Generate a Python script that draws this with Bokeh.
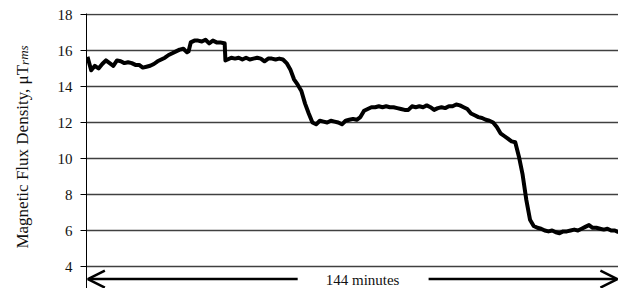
from bokeh.plotting import figure
from bokeh.layouts import row
from bokeh.models import Range1d, Arrow, OpenHead, FixedTicker
from bokeh.embed import file_html
from bokeh.resources import INLINE
from bokeh.core.properties import value

# ---- data ----
minutes = [0, 1, 2, 3, 4, 5, 6, 7, 8, 9, 10, 11, 12, 13, 14, 15, 16, 17, 18, 19,
           20, 21, 22, 23, 24, 25, 26, 27, 27.4, 28, 29, 30, 31, 32, 33, 34, 35, 36, 37,
           37.2, 37.4, 38, 39, 40, 41, 42, 43, 44, 45, 46, 47, 48, 49, 50, 51, 52, 53,
           54, 55, 56, 57, 58, 59, 60, 61, 62, 63, 64, 65, 66, 67, 68, 69, 70, 71, 72,
           73, 74, 75, 76, 77, 78, 79, 80, 81, 82, 83, 84, 85, 86, 87, 88, 89, 90, 91,
           92, 93, 94, 95, 96, 97, 98, 99, 100, 101, 102, 103, 104, 105, 106, 107, 108,
           109, 110, 111, 112, 113, 114, 115, 116, 117, 118, 119, 120, 121, 122, 123,
           124, 125, 126, 127, 128, 129, 130, 131, 132, 133, 134, 135, 136, 137, 138,
           139, 140, 141, 142, 143, 144]
flux = [15.65, 14.9, 15.15, 15.0, 15.25, 15.45, 15.3, 15.15, 15.45, 15.4, 15.3, 15.35,
        15.3, 15.2, 15.2, 15.05, 15.1, 15.15, 15.25, 15.4, 15.5, 15.6, 15.75, 15.85,
        15.95, 16.05, 16.1, 15.9, 15.95, 16.45, 16.55, 16.55, 16.5, 16.6, 16.4, 16.55,
        16.45, 16.45, 16.4, 16.4, 15.45, 15.5, 15.6, 15.55, 15.6, 15.5, 15.6, 15.5,
        15.55, 15.6, 15.55, 15.4, 15.55, 15.55, 15.5, 15.55, 15.5, 15.3, 14.95, 14.4,
        14.1, 13.75, 13.05, 12.5, 12.0, 11.9, 12.1, 12.05, 12.0, 12.1, 12.05, 12.0,
        11.9, 12.1, 12.15, 12.2, 12.15, 12.3, 12.65, 12.75, 12.85, 12.85, 12.9, 12.85,
        12.9, 12.85, 12.85, 12.8, 12.75, 12.7, 12.7, 12.9, 12.85, 12.9, 12.85, 12.95,
        12.85, 12.7, 12.8, 12.85, 12.8, 12.9, 12.9, 13.0, 12.95, 12.85, 12.75, 12.5,
        12.4, 12.3, 12.25, 12.15, 12.1, 12.0, 11.75, 11.4, 11.25, 11.1, 10.95, 10.9,
        10.1, 9.1, 7.7, 6.6, 6.25, 6.15, 6.1, 6.0, 5.95, 6.0, 5.9, 5.85, 5.95, 5.95,
        6.0, 6.05, 6.0, 6.1, 6.2, 6.3, 6.15, 6.15, 6.1, 6.05, 6.1, 6.0, 6.0, 5.9]
y_ticks = [4, 6, 8, 10, 12, 14, 16, 18]
duration_label = "144 minutes"
y_title = "Magnetic Flux Density, \u03bcT"
y_title_sub = "rms"

SERIF = "Liberation Serif"
INK = "#111111"

y_range = Range1d(2.778, 18.056)

# ---- left strip holding the rotated y-axis title ----
t = figure(width=40, height=288, output_backend="svg", toolbar_location=None,
           x_axis_location=None, y_axis_location=None,
           x_range=Range1d(0, 40), y_range=y_range,
           min_border_left=0, min_border_right=0, min_border_top=13,
           min_border_bottom=0)
t.outline_line_color = None
t.xgrid.visible = False
t.ygrid.visible = False
t.text(x=[22], y=[15.2], text=[y_title], angle=1.5708,
       text_font=value(SERIF), text_font_size="17px", text_align="right",
       text_baseline="alphabetic", text_color=INK)
t.text(x=[23.5], y=[15.2], text=[y_title_sub], angle=1.5708,
       text_font=value(SERIF), text_font_size="13px", text_font_style="italic",
       text_align="left", text_baseline="alphabetic", text_color=INK)

# ---- main chart ----
p = figure(width=578, height=288, output_backend="svg", toolbar_location=None,
           x_axis_location=None,
           x_range=Range1d(-0.27, 144), y_range=y_range,
           min_border_left=46, min_border_right=0, min_border_top=13,
           min_border_bottom=0)
p.outline_line_color = None
p.background_fill_color = "white"
p.border_fill_color = "white"

ax = p.yaxis[0]
ax.ticker = FixedTicker(ticks=y_ticks)
ax.axis_line_color = "black"
ax.axis_line_width = 1
ax.major_tick_out = 6
ax.major_tick_in = 0
ax.minor_tick_line_color = None
ax.major_tick_line_color = "black"
ax.major_label_text_font = SERIF
ax.major_label_text_font_size = "15px"
ax.major_label_text_color = INK
ax.major_label_standoff = 8

p.xgrid.visible = False
p.ygrid.ticker = FixedTicker(ticks=y_ticks)
p.ygrid.grid_line_color = "#404040"
p.ygrid.grid_line_width = 1.5

p.line(minutes, flux, line_color="black", line_width=4, line_join="round")

arrow_y = 3.3
p.add_layout(Arrow(end=OpenHead(size=17, line_width=2.5, line_color="black"),
                   x_start=57, y_start=arrow_y, x_end=0.1, y_end=arrow_y,
                   line_width=2.5, line_color="black"))
p.add_layout(Arrow(end=OpenHead(size=17, line_width=2.5, line_color="black"),
                   x_start=92.5, y_start=arrow_y, x_end=143.7, y_end=arrow_y,
                   line_width=2.5, line_color="black"))
p.text(x=[74.6], y=[2.83], text=[duration_label], text_font=value(SERIF),
       text_font_size="15px", text_align="center", text_baseline="bottom",
       text_color=INK)

layout = row(t, p, spacing=0)
open("out.html", "w").write(file_html(layout, INLINE))
